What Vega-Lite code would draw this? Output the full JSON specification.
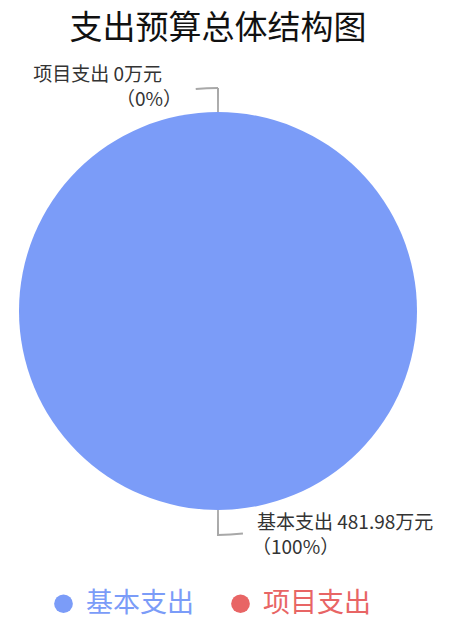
{
  "$schema": "https://vega.github.io/schema/vega-lite/v6.json",
  "width": 436,
  "height": 502,
  "autosize": "none",
  "padding": {"left": 0, "right": 34, "top": 60, "bottom": 59},
  "background": "white",
  "title": {
    "text": "支出预算总体结构图",
    "font": "Noto Sans CJK SC",
    "fontSize": 33,
    "fontWeight": "normal",
    "color": "#111111",
    "anchor": "middle",
    "baseline": "bottom",
    "offset": -19
  },
  "data": {
    "values": [
      {"name": "基本支出", "value": 481.98, "pct": "100%"},
      {"name": "项目支出", "value": 0, "pct": "0%"}
    ]
  },
  "transform": [
    {"calculate": "datum.name + ' ' + datum.value + '万元'", "as": "line1"},
    {"calculate": "'（' + datum.pct + '）'", "as": "line2"}
  ],
  "config": {
    "view": {"stroke": null},
    "text": {"font": "Noto Sans CJK SC", "fontSize": 19, "color": "#333333"}
  },
  "layer": [
    {
      "mark": {"type": "arc", "outerRadius": 199, "stroke": null},
      "encoding": {
        "theta": {"field": "value", "type": "quantitative", "stack": true},
        "color": {
          "field": "name",
          "type": "nominal",
          "scale": {"domain": ["基本支出", "项目支出"], "range": ["#7b9cf8", "#e86565"]},
          "legend": {
            "orient": "none",
            "legendX": 50,
            "legendY": 530,
            "direction": "horizontal",
            "title": null,
            "symbolType": "circle",
            "symbolSize": 350,
            "symbolStrokeWidth": 0,
            "symbolOpacity": 1,
            "labelFont": "Noto Sans CJK SC",
            "labelFontSize": 27,
            "labelOffset": 9,
            "columnPadding": 33,
            "padding": 0,
            "labelColor": {"expr": "datum.label == '基本支出' ? '#7b9cf8' : '#e86565'"}
          }
        },
        "order": {"field": "name", "type": "nominal"}
      }
    },
    {
      "transform": [{"filter": "datum.name == '项目支出'"}],
      "mark": {"type": "arc", "radius": 223, "radius2": 199, "theta": -0.0045, "theta2": 0.0045, "color": "#a8a8a8"},
      "encoding": {}
    },
    {
      "transform": [{"filter": "datum.name == '项目支出'"}],
      "mark": {"type": "arc", "radius": 224, "radius2": 222, "theta": -0.1, "theta2": 0, "color": "#a8a8a8"},
      "encoding": {}
    },
    {
      "transform": [{"filter": "datum.name == '基本支出'"}],
      "mark": {"type": "arc", "radius": 225, "radius2": 199, "theta": 3.1371, "theta2": 3.1461, "color": "#a8a8a8"},
      "encoding": {}
    },
    {
      "transform": [{"filter": "datum.name == '基本支出'"}],
      "mark": {"type": "arc", "radius": 225, "radius2": 223, "theta": 3.03, "theta2": 3.1416, "color": "#a8a8a8"},
      "encoding": {}
    },
    {
      "transform": [{"filter": "datum.name == '项目支出'"}],
      "mark": {"type": "text", "radius": 245, "align": "right", "baseline": "top", "dx": -56},
      "encoding": {
        "theta": {"field": "value", "type": "quantitative", "stack": true},
        "text": {"field": "line1"}
      }
    },
    {
      "transform": [{"filter": "datum.name == '项目支出'"}],
      "mark": {"type": "text", "radius": 220, "align": "right", "baseline": "top", "dx": -36},
      "encoding": {
        "theta": {"field": "value", "type": "quantitative", "stack": true},
        "text": {"field": "line2"}
      }
    },
    {
      "transform": [{"filter": "datum.name == '基本支出'"}],
      "mark": {"type": "text", "radius": 203, "align": "left", "baseline": "top", "dx": 39},
      "encoding": {
        "theta": {"field": "value", "type": "quantitative", "stack": true},
        "text": {"field": "line1"}
      }
    },
    {
      "transform": [{"filter": "datum.name == '基本支出'"}],
      "mark": {"type": "text", "radius": 228, "align": "left", "baseline": "top", "dx": 34},
      "encoding": {
        "theta": {"field": "value", "type": "quantitative", "stack": true},
        "text": {"field": "line2"}
      }
    }
  ]
}
